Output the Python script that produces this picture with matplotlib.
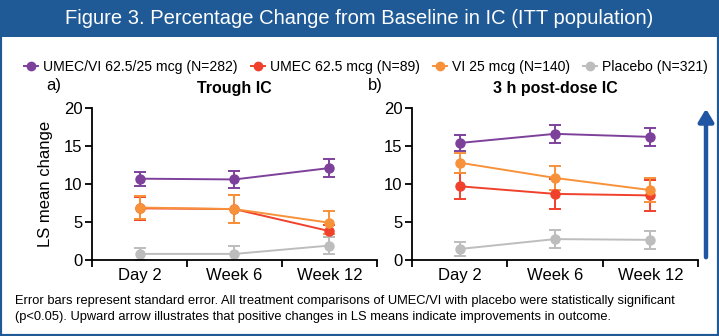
import numpy as np
import matplotlib
matplotlib.use("Agg")
import matplotlib.pyplot as plt
from matplotlib.patches import Rectangle, FancyArrowPatch
from matplotlib.lines import Line2D

plt.rcParams['font.family'] = ['Liberation Sans', 'DejaVu Sans']

# visits and treatment arms
visits = ["Day 2", "Week 6", "Week 12"]
arms = ["UMEC/VI 62.5/25 mcg (N=282)", "UMEC 62.5 mcg (N=89)",
        "VI 25 mcg (N=140)", "Placebo (N=321)"]
arm_colors = ["#7E419B", "#F0412C", "#F8923A", "#BDBDBD"]

# LS mean change (%) and standard error, trough IC
trough_mean = [[10.7, 10.6, 12.1],
               [6.8, 6.7, 3.8],
               [6.9, 6.7, 4.9],
               [0.8, 0.8, 1.9]]
trough_se = [[0.9, 1.1, 1.15],
             [1.5, 1.8, 0.8],
             [1.5, 1.8, 1.5],
             [0.8, 1.1, 1.1]]

# LS mean change (%) and standard error, 3 h post-dose IC
post_mean = [[15.4, 16.6, 16.2],
             [9.7, 8.7, 8.5],
             [12.8, 10.8, 9.2],
             [1.45, 2.75, 2.65]]
post_se = [[1.0, 1.15, 1.15],
           [1.7, 2.0, 2.0],
           [1.3, 1.55, 1.6],
           [0.9, 1.15, 1.15]]

header_blue = "#1F5A96"

W, H = 719, 336
fig = plt.figure(figsize=(W / 100, H / 100), dpi=100, facecolor="white")

# frame and header band
fig.add_artist(Rectangle((0, 0), 1, 1, transform=fig.transFigure,
                         facecolor="none", edgecolor=header_blue,
                         linewidth=3, zorder=5))
fig.add_artist(Rectangle((0, 1 - 37 / H), 1, 37 / H, transform=fig.transFigure,
                         facecolor=header_blue, edgecolor="none", zorder=4))
fig.text(0.5, 1 - 19 / H, "Figure 3. Percentage Change from Baseline in IC (ITT population)",
         ha="center", va="center", color="white", fontsize=14.5, zorder=6)


def draw_panel(ax, means, ses, title, tag, tag_x):
    x = np.arange(len(visits))
    for m, s, c in zip(means, ses, arm_colors):
        ax.errorbar(x, m, yerr=s, color=c, marker="o", markersize=6.5,
                    linewidth=1.4, elinewidth=1.4, capsize=4, capthick=1.4)
    ax.set_xlim(-0.5, 2.5)
    ax.set_ylim(0, 20)
    ax.set_yticks([0, 5, 10, 15, 20])
    ax.set_xticks([-0.5, 0.5, 1.5, 2.5])
    ax.set_xticklabels([])
    ax.set_xticks(x, minor=True)
    ax.set_xticklabels(visits, minor=True)
    ax.tick_params(axis="x", which="minor", length=0, labelsize=12, pad=6)
    ax.tick_params(axis="x", which="major", length=5, width=1.3)
    ax.tick_params(axis="y", length=5, width=1.3, labelsize=12, pad=2)
    for side in ("top", "right"):
        ax.spines[side].set_visible(False)
    for side in ("left", "bottom"):
        ax.spines[side].set_linewidth(1.3)
    ax.set_title(title, fontsize=11.5, fontweight="bold", pad=11)
    ax.text(tag_x, 1.15, tag, transform=ax.transAxes, fontsize=12,
            ha="left", va="center")
    ax.patch.set_alpha(0)


ax1 = fig.add_axes([92 / W, 76 / H, 285 / W, 152 / H])
ax2 = fig.add_axes([412 / W, 76 / H, 286 / W, 152 / H])
draw_panel(ax1, trough_mean, trough_se, "Trough IC", "a)", -0.16)
draw_panel(ax2, post_mean, post_se, "3 h post-dose IC", "b)", -0.155)
ax1.set_ylabel("LS mean change", fontsize=12, labelpad=8)

# legend row
handles = [Line2D([], [], color=c, marker="o", markersize=6, linewidth=1.4)
           for c in arm_colors]
fig.legend(handles, arms, loc="center", bbox_to_anchor=(366 / W, 1 - 67 / H),
           ncol=4, frameon=False, fontsize=10.1, handlelength=1.0,
           handletextpad=0.35, columnspacing=0.95)

# upward arrow: positive change = improvement
fig.add_artist(FancyArrowPatch(
    (706 / W, 1 - 260 / H), (706 / W, 1 - 106 / H), transform=fig.transFigure,
    arrowstyle="-|>,head_length=5,head_width=3", color="#1F55A3",
    linewidth=3.2, mutation_scale=1.5))

fig.text(15 / W, 1 - 309 / H,
         "Error bars represent standard error. All treatment comparisons of UMEC/VI "
         "with placebo were statistically significant\n(p<0.05). Upward arrow illustrates "
         "that positive changes in LS means indicate improvements in outcome.",
         ha="left", va="center", fontsize=9.25, linespacing=1.4)

fig.savefig("out.png", dpi=100)
